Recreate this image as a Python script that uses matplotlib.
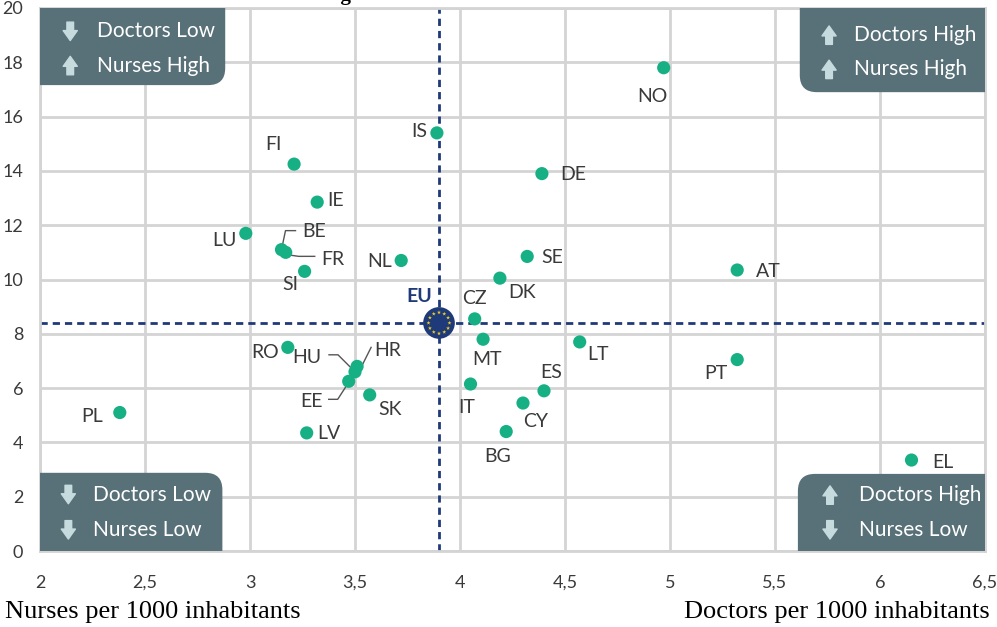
#!/usr/bin/env python3
"""Nurses vs doctors per 1000 inhabitants, EU member states."""
import matplotlib
matplotlib.use("Agg")
import matplotlib.pyplot as plt
import matplotlib.transforms as mtransforms
from matplotlib.patches import FancyBboxPatch
import numpy as np

# country code, nurses per 1000 (x), doctors per 1000 (y)
countries = ["NO", "IS", "FI", "DE", "IE", "LU", "BE", "FR", "SI", "NL",
             "SE", "DK", "AT", "CZ", "MT", "LT", "RO", "HR", "HU", "EE",
             "PT", "IT", "ES", "SK", "CY", "PL", "LV", "BG", "EL"]
nurses = [4.97, 3.89, 3.21, 4.39, 3.32, 2.98, 3.15, 3.17, 3.26, 3.72,
          4.32, 4.19, 5.32, 4.07, 4.11, 4.57, 3.18, 3.51, 3.50, 3.47,
          5.32, 4.05, 4.40, 3.57, 4.30, 2.38, 3.27, 4.22, 6.15]
doctors = [17.8, 15.4, 14.25, 13.9, 12.85, 11.7, 11.1, 11.0, 10.3, 10.7,
           10.85, 10.05, 10.35, 8.55, 7.8, 7.7, 7.5, 6.8, 6.6, 6.25,
           7.05, 6.15, 5.9, 5.75, 5.45, 5.1, 4.35, 4.4, 3.35]
eu_nurses = 3.9
eu_doctors = 8.4

x_ticks = [2, 2.5, 3, 3.5, 4, 4.5, 5, 5.5, 6, 6.5]
y_ticks = [0, 2, 4, 6, 8, 10, 12, 14, 16, 18, 20]

# label offsets in pixels (dx right, dy up) and alignment
label_pos = {
    "NO": (-11, -29, "center"), "IS": (-10, 1, "right"), "FI": (-21, 20, "center"),
    "DE": (18, -1, "left"), "IE": (10, 2, "left"), "LU": (-9, -7, "right"),
    "BE": (21, 18, "left"), "FR": (36, -7, "left"), "SI": (-14, -13, "center"),
    "NL": (-9, -1, "right"), "SE": (14, -1, "left"), "DK": (8, -14, "left"),
    "AT": (19, -2, "left"), "CZ": (0, 20, "center"), "MT": (4, -20, "center"),
    "LT": (8, -13, "left"), "RO": (-9, -5, "right"), "HR": (17, 16, "left"),
    "HU": (-34, 14, "right"), "EE": (-26, -20, "right"), "PT": (-10, -14, "right"),
    "IT": (-4, -23, "center"), "ES": (7, 18, "center"), "SK": (9, -15, "left"),
    "CY": (13, -18, "center"), "PL": (-17, -4, "right"), "LV": (11, -1, "left"),
    "BG": (-9, -25, "center"), "EL": (21, -2, "left"),
}
# leader lines (pixel offsets from point)
leaders = {
    "BE": [(0, 0), (4, 19), (14, 19)],
    "FR": [(6, -3), (13, -4), (29, -4)],
    "HU": [(-2, 2), (-17, 17), (-26, 17)],
    "HR": [(5, 1), (14, 19)],
    "EE": [(0, -1), (-11, -18), (-20, -18)],
}

GREEN = "#17b085"
NAVY = "#1f3a78"
BOX = "#587078"
ARROW = "#c6dbde"
GRID = "#d4d4d4"
TEXT = "#3a3a3a"
NARROW = ["Lato", "DejaVu Sans"]

fig = plt.figure(figsize=(9.97, 6.27), dpi=100)
ax = fig.add_axes([40 / 997, 1 - 551 / 627, 945 / 997, 543 / 627])
ax.set_xlim(2, 6.5)
ax.set_ylim(0, 20)
ax.set_xticks(x_ticks)
ax.set_yticks(y_ticks)
ax.set_xticklabels([f"{t:g}".replace(".", ",") for t in x_ticks])
ax.set_yticklabels([str(t) for t in y_ticks])
ax.tick_params(length=0, labelsize=13, colors=TEXT)
ax.tick_params(axis="x", pad=17)
ax.tick_params(axis="y", pad=12)
for lab in ax.get_xticklabels() + ax.get_yticklabels():
    lab.set_family(NARROW)
ax.grid(True, color=GRID, linewidth=2)
ax.set_axisbelow(True)
for sp in ax.spines.values():
    sp.set_color(GRID)
    sp.set_linewidth(2)

# EU average cross
ax.axvline(eu_nurses, color=NAVY, linewidth=2, dashes=(2.6, 1.8), zorder=2)
ax.axhline(eu_doctors, color=NAVY, linewidth=2, dashes=(2.6, 1.8), zorder=2)

ax.scatter(nurses, doctors, s=90, color=GREEN, edgecolor="none", zorder=4)

px = 72 / fig.dpi  # points per pixel
for code, x, y in zip(countries, nurses, doctors):
    dx, dy, ha = label_pos[code]
    ax.annotate(code, (x, y), xytext=(dx * px, dy * px), textcoords="offset points",
                ha=ha, va="center", fontsize=14, color=TEXT, family=NARROW, zorder=5)
    if code in leaders:
        base = ax.transData.transform((x, y))
        xs = [base[0] + p[0] for p in leaders[code]]
        ys = [base[1] + p[1] for p in leaders[code]]
        ax.plot(xs, ys, color="#555555", linewidth=1, transform=None, zorder=3)

# EU marker with ring of stars
ax.scatter([eu_nurses], [eu_doctors], s=520, color=NAVY, edgecolor="none", zorder=6)
for ang in np.linspace(0, 2 * np.pi, 12, endpoint=False):
    off = mtransforms.ScaledTranslation(10.5 * np.cos(ang) / fig.dpi,
                                        10.5 * np.sin(ang) / fig.dpi, fig.dpi_scale_trans)
    ax.scatter([eu_nurses], [eu_doctors], s=9, marker="*", color="#f4d21f",
               edgecolor="none", zorder=7, transform=ax.transData + off)
ax.annotate("EU", (eu_nurses, eu_doctors), xytext=(-20 * px, 26 * px),
            textcoords="offset points", ha="center", va="center", fontsize=14,
            fontweight="bold", color=NAVY, family=NARROW, zorder=6)

# quadrant boxes: (x0, y0, x1, y1) in axes fraction, rows of (up?, text)
boxes = [
    ((-0.1, 0.858, 0.196, 1.1), [(False, "Doctors Low"), (True, "Nurses High")], 0.032, 0.060, [0.957, 0.894]),
    ((0.804, 0.845, 1.1, 1.1), [(True, "Doctors High"), (True, "Nurses High")], 0.835, 0.861, [0.950, 0.887]),
    ((-0.1, -0.1, 0.193, 0.144), [(False, "Doctors Low"), (False, "Nurses Low")], 0.030, 0.056, [0.104, 0.039]),
    ((0.802, -0.1, 1.1, 0.142), [(True, "Doctors High"), (False, "Nurses Low")], 0.836, 0.867, [0.103, 0.039]),
]
half = 0.017  # half arrow length in axes fraction (vertical)
for (x0, y0, x1, y1), rows, ax_arrow, ax_text, ys in boxes:
    patch = FancyBboxPatch((x0, y0), x1 - x0, y1 - y0,
                           boxstyle="round,pad=0,rounding_size=0.018",
                           transform=ax.transAxes, facecolor=BOX, edgecolor="none",
                           zorder=8, clip_on=True, mutation_aspect=945 / 543)
    ax.add_patch(patch)
    for (up, txt), yy in zip(rows, ys):
        tip, tail = (yy + half, yy - half) if up else (yy - half, yy + half)
        ax.annotate("", xy=(ax_arrow, tip), xytext=(ax_arrow, tail),
                    xycoords="axes fraction", textcoords="axes fraction",
                    arrowprops=dict(arrowstyle="simple,head_length=0.6,head_width=0.85,tail_width=0.4",
                                    color=ARROW, shrinkA=0, shrinkB=0, mutation_scale=12),
                    zorder=9)
        ax.text(ax_text, yy, txt, transform=ax.transAxes, ha="left", va="center",
                fontsize=15, color="white", family=NARROW, zorder=9)

# axis captions and clipped title
fig.text(5 / 997, 1 - 612 / 627, "Nurses per 1000 inhabitants", ha="left", va="center",
         fontsize=19, family="Liberation Serif", color="black")
fig.text(990 / 997, 1 - 612 / 627, "Doctors per 1000 inhabitants", ha="right", va="center",
         fontsize=19, family="Liberation Serif", color="black")
fig.text(490 / 997, 1.0, "Figure 3: Nurses vs Doctors in the EU", ha="center", va="baseline",
         fontsize=15, fontweight="bold", family="Liberation Serif", color="black")

fig.savefig("out.png", dpi=100)
